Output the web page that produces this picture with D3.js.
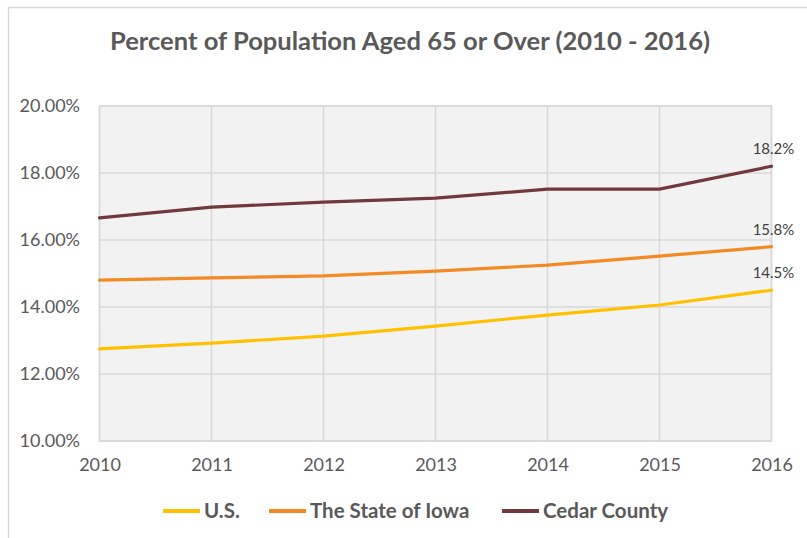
<!DOCTYPE html>
<html>
<head>
<meta charset="utf-8">
<script src="https://cdn.jsdelivr.net/npm/d3@7"></script>
<style>
  html, body { margin: 0; padding: 0; background: #fff; }
  svg { display: block; font-family: Lato, "Open Sans", sans-serif; }
</style>
</head>
<body>
<svg id="chart" width="807" height="538"></svg>
<script>
// Share of residents aged 65+, by year
const years = [2010, 2011, 2012, 2013, 2014, 2015, 2016];
const usValues = [12.75, 12.92, 13.13, 13.43, 13.76, 14.06, 14.5];
const iowaValues = [14.8, 14.87, 14.93, 15.07, 15.25, 15.52, 15.8];
const cedarValues = [16.66, 16.98, 17.13, 17.25, 17.52, 17.52, 18.2];
const seriesNames = ["U.S.", "The State of Iowa", "Cedar County"];
const seriesColors = ["#FFC000", "#F28A24", "#72383D"];
const yTicks = [10, 12, 14, 16, 18, 20];

const series = [usValues, iowaValues, cedarValues].map((vals, i) => ({
  name: seriesNames[i],
  color: seriesColors[i],
  values: vals.map((v, j) => ({ year: years[j], value: v }))
}));

const svg = d3.select("#chart");
const plot = { left: 99.5, right: 771.5, top: 106, bottom: 441 };

// Outer chart frame (runs off the right and bottom edges)
svg.append("rect")
  .attr("x", 8.5).attr("y", 7.5)
  .attr("width", 900).attr("height", 600)
  .attr("fill", "#fff")
  .attr("stroke", "#d9d9d9").attr("stroke-width", 1.5);

const x = d3.scaleLinear().domain([2010, 2016]).range([plot.left, plot.right]);
const y = d3.scaleLinear().domain([10, 20]).range([plot.bottom, plot.top]);

// Plot background
svg.append("rect")
  .attr("x", plot.left).attr("y", plot.top)
  .attr("width", plot.right - plot.left).attr("height", plot.bottom - plot.top)
  .attr("fill", "#f2f2f2")
  .attr("stroke", "#d2d2d2").attr("stroke-width", 1.5);

// Horizontal gridlines
svg.append("g").selectAll("line").data(yTicks).join("line")
  .attr("x1", plot.left).attr("x2", plot.right)
  .attr("y1", d => y(d)).attr("y2", d => y(d))
  .attr("stroke", "#d9d9d9").attr("stroke-width", 1.5);

// Vertical gridlines
svg.append("g").selectAll("line").data(years).join("line")
  .attr("x1", d => x(d)).attr("x2", d => x(d))
  .attr("y1", plot.top).attr("y2", plot.bottom)
  .attr("stroke", "#d9d9d9").attr("stroke-width", 1.5);

// Y axis labels
const yAxis = d3.axisLeft(y).tickValues(yTicks)
  .tickFormat(d => d.toFixed(2) + "%").tickSize(0).tickPadding(0);
const yG = svg.append("g").attr("transform", "translate(80,0)").call(yAxis);
yG.select(".domain").remove();
yG.selectAll("text")
  .attr("font-size", 18).attr("fill", "#595959")
  .attr("font-family", "Lato, sans-serif");

// X axis labels
const xAxis = d3.axisBottom(x).tickValues(years)
  .tickFormat(d3.format("d")).tickSize(0).tickPadding(0);
const xG = svg.append("g").attr("transform", "translate(0,458)").call(xAxis);
xG.select(".domain").remove();
xG.selectAll("text")
  .attr("font-size", 18).attr("fill", "#595959")
  .attr("font-family", "Lato, sans-serif");

// Series lines
const line = d3.line().x(d => x(d.year)).y(d => y(d.value));
svg.append("g").selectAll("path").data(series).join("path")
  .attr("d", d => line(d.values))
  .attr("fill", "none")
  .attr("stroke", d => d.color)
  .attr("stroke-width", 3.2)
  .attr("stroke-linejoin", "round")
  .attr("stroke-linecap", "round");

// End-point value labels
svg.append("g").selectAll("text").data(series).join("text")
  .attr("x", d => x(d.values[d.values.length - 1].year) + 2)
  .attr("y", d => y(d.values[d.values.length - 1].value) - 12)
  .attr("text-anchor", "middle")
  .attr("font-size", 15).attr("fill", "#404040")
  .text(d => d.values[d.values.length - 1].value.toFixed(1) + "%");

// Title
svg.append("text")
  .attr("x", 410).attr("y", 50)
  .attr("text-anchor", "middle")
  .attr("font-size", 24).attr("font-weight", "bold").attr("fill", "#595959")
  .attr("textLength", 600).attr("lengthAdjust", "spacingAndGlyphs")
  .text("Percent of Population Aged 65 or Over (2010 - 2016)");

// Legend
const legendX = [163, 269, 502];
const lg = svg.append("g").selectAll("g").data(series).join("g")
  .attr("transform", (d, i) => `translate(${legendX[i]},511)`);
lg.append("line")
  .attr("x1", 0).attr("x2", 37).attr("y1", 0).attr("y2", 0)
  .attr("stroke", d => d.color).attr("stroke-width", 4);
lg.append("text")
  .attr("x", 41).attr("y", 7)
  .attr("font-size", 20.5).attr("font-weight", "bold").attr("fill", "#595959")
  .text(d => d.name);
</script>
</body>
</html>
